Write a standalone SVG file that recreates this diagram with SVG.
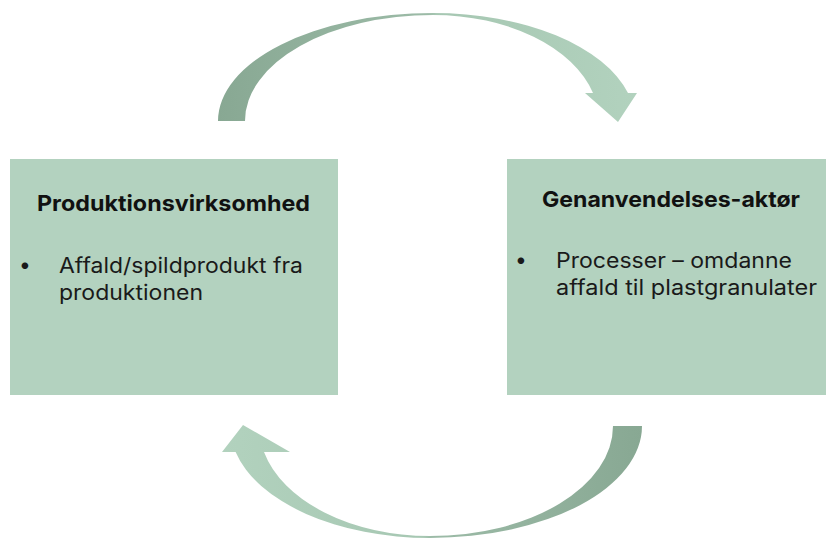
<svg xmlns="http://www.w3.org/2000/svg" width="826" height="539" viewBox="0 0 826 539">
  <defs>
    <linearGradient id="gTop" gradientUnits="userSpaceOnUse" x1="218" y1="0" x2="638" y2="0">
      <stop offset="0" stop-color="#88A893"/>
      <stop offset="0.5" stop-color="#9CBBA7"/>
      <stop offset="0.52" stop-color="#A6C7B2"/>
      <stop offset="1" stop-color="#B2D2BE"/>
    </linearGradient>
    <linearGradient id="gBot" gradientUnits="userSpaceOnUse" x1="642" y1="0" x2="222" y2="0">
      <stop offset="0" stop-color="#88A893"/>
      <stop offset="0.5" stop-color="#9CBBA7"/>
      <stop offset="0.52" stop-color="#A6C7B2"/>
      <stop offset="1" stop-color="#B2D2BE"/>
    </linearGradient>
  </defs>
  <style>
    .box { fill: #B3D2BF; }
    .title { font-family: Inter, "Liberation Sans", sans-serif; font-weight: bold; font-size: 22px; fill: #111; }
    .body { font-family: Inter, "Liberation Sans", sans-serif; font-size: 21px; fill: #1a1a1a; }
  </style>
  <rect width="826" height="539" fill="#ffffff"/>

  <g id="connectors">
    <path id="arrow-top" fill="url(#gTop)" d="M 218 121 A 215 108 0 0 1 433 13 A 202 108 0 0 1 628 93 L 637 93 L 618 122 L 585 93 L 593 93 A 166 106 0 0 0 433 15 A 188 106 0 0 0 245 121 Z"/>
    <path id="arrow-bottom" fill="url(#gBot)" d="M 642 426 A 212 112 0 0 1 430 538 A 200 112 0 0 1 235.6 452 L 222 452 L 243 425 L 290 452 L 264 452 A 171 110 0 0 0 430 536 A 183 110 0 0 0 613 426 Z"/>
  </g>

  <g id="node-produktion">
    <rect class="box" x="10" y="159" width="328" height="236"/>
    <text class="title" x="37" y="211" textLength="273" lengthAdjust="spacingAndGlyphs">Produktionsvirksomhed</text>
    <text class="body" x="25" y="272" text-anchor="middle">•</text>
    <text class="body" x="59" y="273" textLength="244" lengthAdjust="spacingAndGlyphs">Affald/spildprodukt fra</text>
    <text class="body" x="59" y="300" textLength="144" lengthAdjust="spacingAndGlyphs">produktionen</text>
  </g>

  <g id="node-genanvendelse">
    <rect class="box" x="507" y="159" width="319" height="236"/>
    <text class="title" x="542" y="207" textLength="258" lengthAdjust="spacingAndGlyphs">Genanvendelses-aktør</text>
    <text class="body" x="521" y="267" text-anchor="middle">•</text>
    <text class="body" x="556" y="268" textLength="236" lengthAdjust="spacingAndGlyphs">Processer – omdanne</text>
    <text class="body" x="556" y="295" textLength="261" lengthAdjust="spacingAndGlyphs">affald til plastgranulater</text>
  </g>
</svg>
